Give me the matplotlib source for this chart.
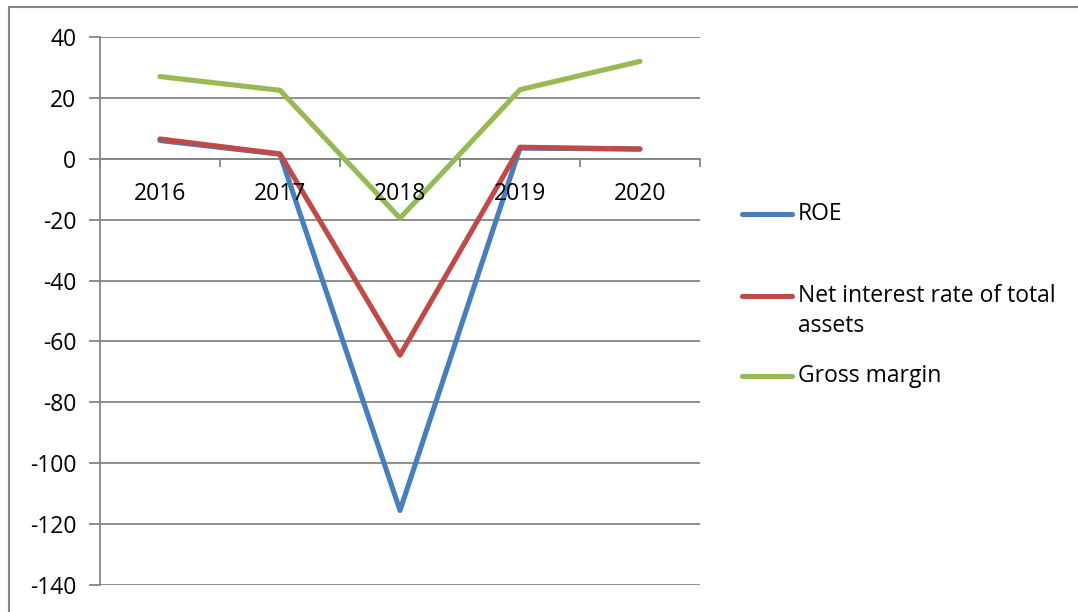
import matplotlib.pyplot as plt
from matplotlib.lines import Line2D
from matplotlib.patches import Rectangle

# data
years = ['2016', '2017', '2018', '2019', '2020']
roe = [6.0, 1.5, -115.5, 3.5, 3.2]
net_interest = [6.5, 1.6, -64.5, 3.8, 3.2]
gross_margin = [27.0, 22.5, -19.5, 22.7, 32.0]
series_names = ['ROE', 'Net interest rate of total\nassets', 'Gross margin']
colors = ['#4A7EBB', '#BE4B48', '#98B954']
grid_color = '#868686'

plt.rcParams['font.family'] = ['Open Sans', 'DejaVu Sans']
plt.rcParams['axes.unicode_minus'] = False
fs = 16.5

fig = plt.figure(figsize=(10.78, 6.12), dpi=100)
ax = fig.add_axes([100 / 1078, 1 - 585 / 612, 600 / 1078, 548 / 612])

x = list(range(len(years)))
for vals, c in zip([roe, net_interest, gross_margin], colors):
    ax.plot(x, vals, color=c, lw=3.7, solid_capstyle='round', solid_joinstyle='round', zorder=3)

ax.set_xlim(-0.5, len(years) - 0.5)
ax.set_ylim(-140, 40)
ax.set_yticks(range(-140, 41, 20))
ax.yaxis.grid(True, color=grid_color, lw=1.3)
ax.set_axisbelow(True)

# x axis sits on zero, ticks at category boundaries
ax.spines['bottom'].set_position(('data', 0))
ax.spines['bottom'].set_color(grid_color)
ax.spines['bottom'].set_linewidth(1.3)
ax.spines['left'].set_color(grid_color)
ax.spines['left'].set_linewidth(1.3)
ax.spines['top'].set_visible(False)
ax.spines['right'].set_visible(False)

ax.set_xticks([i - 0.5 for i in range(len(years) + 1)])
ax.set_xticklabels([])
ax.tick_params(axis='x', direction='out', length=6, width=1.3, color=grid_color)
for i, y in enumerate(years):
    ax.text(i, -11.5, y, ha='center', va='center', fontsize=fs, color='black')

ax.tick_params(axis='y', direction='out', length=8, width=1.3, color=grid_color,
               labelsize=fs, pad=9)

# legend drawn by hand to mimic Excel layout (handle sits on first text line)
legend_rows = [214, 296, 376]
line_gap = 30
for name, c, ypx in zip(series_names, colors, legend_rows):
    yf = 1 - ypx / 612
    fig.add_artist(Line2D([742 / 1078, 792 / 1078], [yf, yf], color=c, lw=3.7,
                          solid_capstyle='round', transform=fig.transFigure))
    for k, part in enumerate(name.split('\n')):
        fig.text(798 / 1078, 1 - (ypx + k * line_gap) / 612, part,
                 ha='left', va='center', fontsize=fs)

# outer chart border
fig.add_artist(Rectangle((9 / 1078, -0.05), 1.2, 1 - 7 / 612 + 0.05, fill=False,
                         edgecolor=grid_color, lw=1.5, transform=fig.transFigure))

plt.savefig('out.png', dpi=100)
